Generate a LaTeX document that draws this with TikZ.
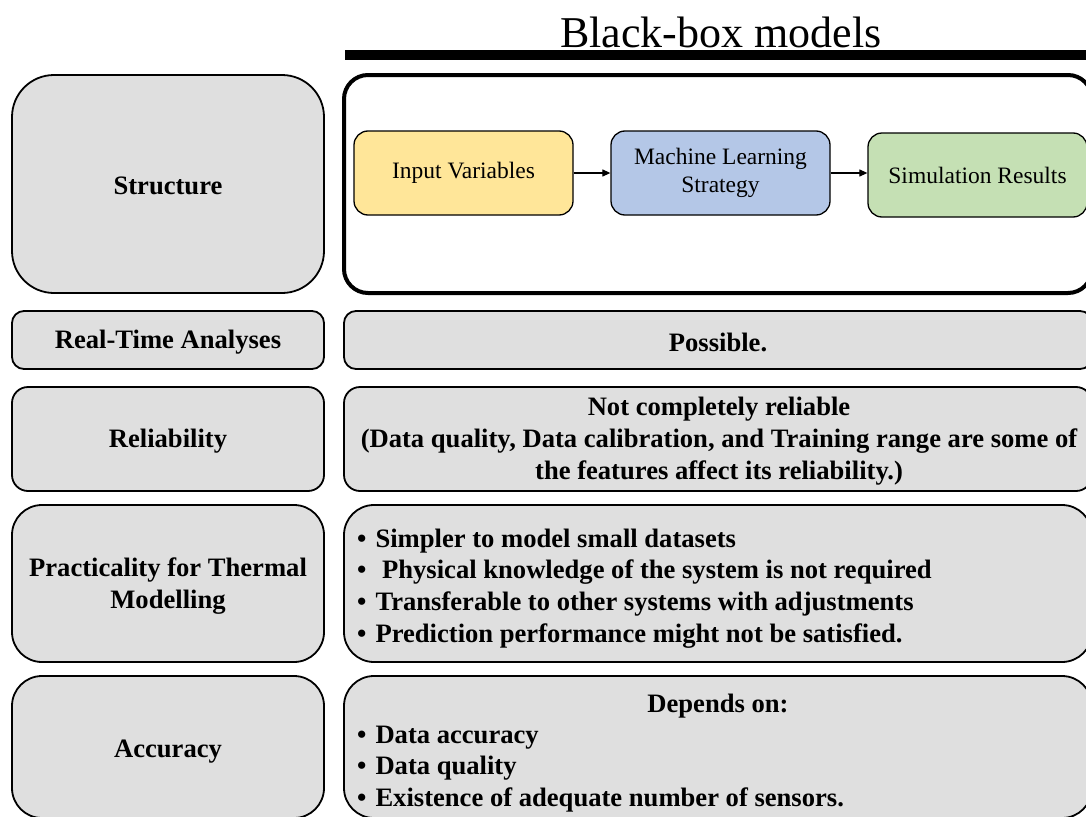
\documentclass[tikz,border=0pt]{standalone}
\usepackage{fontspec}
\setmainfont{Liberation Serif}
\usetikzlibrary{arrows.meta}
\definecolor{boxgray}{HTML}{DFDFDF}
\definecolor{inyellow}{HTML}{FFE699}
\definecolor{mlblue}{HTML}{B4C7E7}
\definecolor{simgreen}{HTML}{C5E0B4}
\newcommand{\bul}{\textbullet\hspace{9pt}}
\tikzset{
  lbl/.style={font=\fontsize{26.6}{31.7}\selectfont\bfseries},
  gbox/.style={draw=black, fill=boxgray, line width=1.8pt, inner sep=0pt, align=center, lbl},
  leftbox/.style={gbox, minimum width=312pt},
  rightbox/.style={gbox, minimum width=748pt},
  flowbox/.style={draw=black, line width=1.3pt, rounded corners=14pt, minimum width=219pt, minimum height=84pt, inner sep=0pt, align=center, font=\fontsize{23.5}{28}\selectfont},
  flowarrow/.style={line width=1.2pt, -{Triangle[length=8pt,width=7pt]}},
  bodytext/.style={lbl, align=left, inner sep=0pt},
  ctext/.style={lbl, align=center, inner sep=0pt}
}
\begin{document}
\begin{tikzpicture}[x=1pt,y=-1pt]
\clip (0,0) rectangle (1086,816);
\fill[white] (0,0) rectangle (1086,816);

% title
\node[font=\fontsize{44}{50}\selectfont] (title) at (721,32) {Black-box models};
\coordinate (barL) at (345,55);
\coordinate (barR) at (1095,55);
\draw[line width=10pt] (barL) -- (barR);

% left column
\node[leftbox, minimum height=218pt, rounded corners=42pt] (lStruct) at (168,184) {};
\node[leftbox, minimum height=58pt, rounded corners=12pt] (lRT) at (168,340) {};
\node[leftbox, minimum height=104pt, rounded corners=16pt] (lRel) at (168,439) {};
\node[leftbox, minimum height=157pt, rounded corners=30pt] (lPrac) at (168,583.5) {};
\node[leftbox, minimum height=142pt, rounded corners=30pt] (lAcc) at (168,747) {};
\node[ctext] (tStruct) at (168,186) {Structure};
\node[ctext] (tRT) at (168,342) {Real-Time Analyses};
\node[ctext] (tRel) at (168,441) {Reliability};
\node[ctext] (tPrac) at (168,586) {Practicality for Thermal\\Modelling};
\node[ctext] (tAcc) at (168,752) {Accuracy};

% right column
\node[draw=black, fill=white, line width=4pt, rounded corners=24pt, minimum width=748pt, minimum height=218pt] (rStruct) at (718,184) {};
\node[rightbox, minimum height=58pt, rounded corners=12pt] (rRT) at (718,340) {};
\node[rightbox, minimum height=104pt, rounded corners=16pt] (rRel) at (718,439) {};
\node[rightbox, minimum height=157pt, rounded corners=30pt] (rPrac) at (718,583.5) {};
\node[rightbox, minimum height=142pt, rounded corners=30pt] (rAcc) at (718,747) {};
\node[ctext] (tPossible) at (718,342) {Possible.};
\node[ctext] (tReliable) at (719,441) {Not completely reliable\\(Data quality, Data calibration, and Training range are some of\\the features affect its reliability.)};

% flow inside structure
\node[flowbox, fill=inyellow] (inp) at (463.5,173) {Input Variables};
\node[flowbox, fill=mlblue] (ml) at (720.5,173) {Machine Learning\\Strategy};
\node[flowbox, fill=simgreen] (sim) at (977.5,175) {Simulation Results};
\draw[flowarrow] (inp.east) -- (ml.west);
\draw[flowarrow] (ml.east) -- (ml.east -| sim.west);

% practicality bullets
\node[bodytext, anchor=west] (pracText) at (357,588.5) {\bul Simpler to model small datasets\\\bul\ Physical knowledge of the system is not required\\\bul Transferable to other systems with adjustments\\\bul Prediction performance might not be satisfied.};

% accuracy text
\node[ctext] (depends) at (718,706) {Depends on:};
\node[bodytext, anchor=west] (accText) at (357,769) {\bul Data accuracy\\\bul Data quality\\\bul Existence of adequate number of sensors.};
\end{tikzpicture}
\end{document}
